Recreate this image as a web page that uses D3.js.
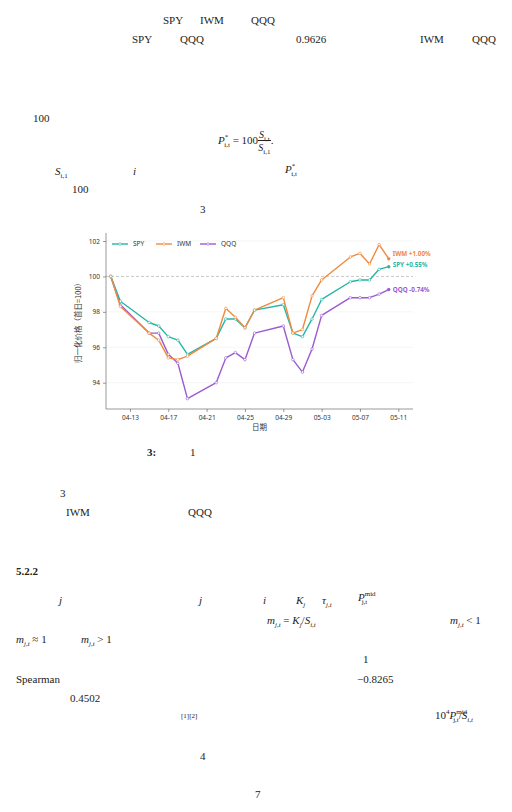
<!DOCTYPE html>
<html><head><meta charset="utf-8">
<script src="https://cdn.jsdelivr.net/npm/d3@7"></script>
<style>
body{margin:0;background:#fff;width:512px;height:812px;position:relative;overflow:hidden;font-family:"Liberation Serif","DejaVu Serif",serif;font-size:11px;color:#222}
.t{position:absolute;white-space:nowrap;line-height:1}
sub,sup{font-size:7px;line-height:0}
svg{position:absolute;left:0;top:0}
</style></head><body>
<script>
const dates = ['04-11','04-12','04-15','04-16','04-17','04-18','04-19','04-22','04-23','04-24','04-25','04-26','04-29','04-30','05-01','05-02','05-03','05-06','05-07','05-08','05-09','05-10'];
const spy = [100,98.6,97.4,97.2,96.6,96.4,95.6,96.5,97.6,97.6,97.1,98.1,98.4,96.8,96.6,97.6,98.7,99.7,99.8,99.8,100.4,100.55];
const iwm = [100,98.3,96.8,96.4,95.4,95.3,95.5,96.5,98.2,97.7,97.1,98.1,98.8,96.8,97.0,98.9,99.8,101.1,101.3,100.7,101.8,101.0];
const qqq = [100,98.4,96.8,96.8,95.6,95.1,93.1,94.0,95.4,95.7,95.3,96.8,97.2,95.3,94.6,95.9,97.8,98.8,98.8,98.8,99.0,99.26];
const seriesNames = ['SPY','IWM','QQQ'];
const endLabels = ['SPY +0.55%','IWM +1.00%','QQQ -0.74%'];
const colors = ['#26b5a6','#ef8a3c','#9a5bd0'];
const xTicks = ['04-13','04-17','04-21','04-25','04-29','05-03','05-07','05-11'];
const yTicks = [94,96,98,100,102];

// page text fragments (the CJK body text is not rendered in the reference)
const texts = [
  [163,15,'SPY'],[200,15,'IWM'],[251,15,'QQQ'],
  [132,34,'SPY'],[180,34,'QQQ'],[296,34,'0.9626'],[420,34,'IWM'],[472,34,'QQQ'],
  [33,113,'100'],
  [55,166,'<i>S</i><sub>i,1</sub>'],[133,166,'<i>i</i>'],[285,164,'<i>P</i><sup>*</sup><sub style="margin-left:-4px">i,t</sub>'],
  [72,184,'100'],[200,204,'3'],
  [147,447,'<b>3:</b>'],[190,447,'1'],
  [60,488,'3'],[66,507,'IWM'],[188,507,'QQQ'],
  [16,566,'<b>5.2.2</b>'],
  [59,595,'<i>j</i>'],[199,595,'<i>j</i>'],[263,595,'<i>i</i>'],[296,595,'<i>K<sub>j</sub></i>'],[322,595,'<i>τ<sub>j,t</sub></i>'],[358,592,'<i>P</i><sup>mid</sup><sub style="margin-left:-14px">j,t</sub>'],
  [267,615,'<i>m<sub>j,t</sub></i> = <i>K<sub>j</sub></i>/<i>S<sub>i,t</sub></i>'],[450,615,'<i>m<sub>j,t</sub></i> &lt; 1'],
  [16,634,'<i>m<sub>j,t</sub></i> ≈ 1'],[81,634,'<i>m<sub>j,t</sub></i> &gt; 1'],
  [363,654,'1'],[16,674,'Spearman'],[357,674,'−0.8265'],[70,693,'0.4502'],
  [181,709,'<span style="font-size:7px">[1][2]</span>'],[435,710,'10<sup>4</sup><i>P</i><sup>mid</sup><sub style="margin-left:-14px">j,t</sub>/<i>S<sub>i,t</sub></i>'],
  [200,751,'4'],[255,789,'7']
];
texts.forEach(([x,y,h]) => d3.select('body').append('div').attr('class','t').style('left',x+'px').style('top',y+'px').html(h));
d3.select('body').append('div').attr('class','t').style('left','218px').style('top','130px')
  .html('<i>P</i><sup>*</sup><sub style="margin-left:-4px">i,t</sub> = 100<span style="display:inline-block;vertical-align:middle;text-align:center;font-size:10px"><span style="display:block;border-bottom:1px solid #222;padding:0 1px"><i>S</i><sub>i,t</sub></span><span style="display:block;padding-top:2px"><i>S</i><sub>i,1</sub></span></span>.');

const svg = d3.select('body').append('svg').attr('width',512).attr('height',812)
  .style('font-family','"Noto Sans CJK SC","Noto Sans",sans-serif');

const parse = d3.timeParse('%Y-%m-%d');
const toDate = s => parse('2024-' + s);
const x = d3.scaleTime().domain([toDate('04-11'), toDate('05-11')]).range([110.8, 398.3]);
const y = d3.scaleLinear().domain([94,102]).range([382.7,241]);
const pL = 106, pR = 413, pT = 233, pB = 409;

const g = svg.append('g');
// grid
g.selectAll('.grid').data(yTicks.filter(d => d !== 100)).enter().append('line')
  .attr('x1',pL).attr('x2',pR).attr('y1',d=>y(d)).attr('y2',d=>y(d))
  .attr('stroke','#eee').attr('stroke-width',0.6);
g.append('line').attr('x1',pL).attr('x2',pR).attr('y1',y(100)).attr('y2',y(100))
  .attr('stroke','#bbb').attr('stroke-dasharray','3,2').attr('stroke-width',0.8);

// axes
const xAxis = d3.axisBottom(x).tickValues(xTicks.map(toDate)).tickFormat(d3.timeFormat('%m-%d')).tickSize(3);
const yAxis = d3.axisLeft(y).tickValues(yTicks).tickSize(3);
const ax = g.append('g').attr('transform',`translate(0,${pB})`).call(xAxis);
const ay = g.append('g').attr('transform',`translate(${pL},0)`).call(yAxis);
[ax,ay].forEach(a => { a.selectAll('text').attr('font-size',6.5).attr('fill','#333').attr('font-family','"Noto Sans",sans-serif'); a.selectAll('line,path').attr('stroke','#555').attr('stroke-width',0.6); });
ax.select('.domain').attr('d',`M${pL},0H${pR}`);
ay.select('.domain').attr('d',`M0,${pT - 233 + 233 - 0}V${pB}`);

svg.append('text').attr('x',(pL+pR)/2).attr('y',430).attr('text-anchor','middle').attr('font-size',7.5).attr('fill','#333').text('日期');
svg.append('text').attr('transform',`translate(81,${(pT+pB)/2}) rotate(-90)`).attr('text-anchor','middle').attr('font-size',7.5).attr('fill','#333').text('归一化价格（首日=100）');

const line = d3.line().x((d,i)=>x(toDate(dates[i]))).y(d=>y(d));
const all = [spy, iwm, qqq];
[2,0,1].forEach(k => {
  const s = all[k];
  g.append('path').datum(s).attr('d',line).attr('fill','none').attr('stroke',colors[k]).attr('stroke-width',1.4).attr('stroke-linejoin','round');
  g.selectAll('.p'+k).data(s).enter().append('circle')
    .attr('cx',(d,i)=>x(toDate(dates[i]))).attr('cy',d=>y(d)).attr('r',1.3)
    .attr('fill','#fff').attr('stroke',colors[k]).attr('stroke-width',0.6);
  const last = s.length-1;
  g.append('circle').attr('cx',x(toDate(dates[last]))).attr('cy',y(s[last])).attr('r',1.5).attr('fill',colors[k]);
});
// end labels
const labelY = [y(spy[21])-1.5, y(iwm[21])-5, y(qqq[21])];
endLabels.forEach((t,k) => svg.append('text').attr('x',x(toDate('05-10'))+4).attr('y',labelY[k]+2.3)
  .attr('font-size',6.3).attr('font-weight','bold').attr('fill',colors[k]).attr('font-family','"Noto Sans",sans-serif').text(t));

// legend
const lg = svg.append('g').attr('transform','translate(112,244)');
seriesNames.forEach((n,k) => {
  const gx = k*44;
  lg.append('line').attr('x1',gx).attr('x2',gx+16).attr('stroke',colors[k]).attr('stroke-width',1.4);
  lg.append('circle').attr('cx',gx+8).attr('r',1.3).attr('fill','#fff').attr('stroke',colors[k]).attr('stroke-width',0.6);
  lg.append('text').attr('x',gx+21).attr('y',2.3).attr('font-size',6.5).attr('fill','#333').attr('font-family','"Noto Sans",sans-serif').text(n);
});
</script>
</body></html>
